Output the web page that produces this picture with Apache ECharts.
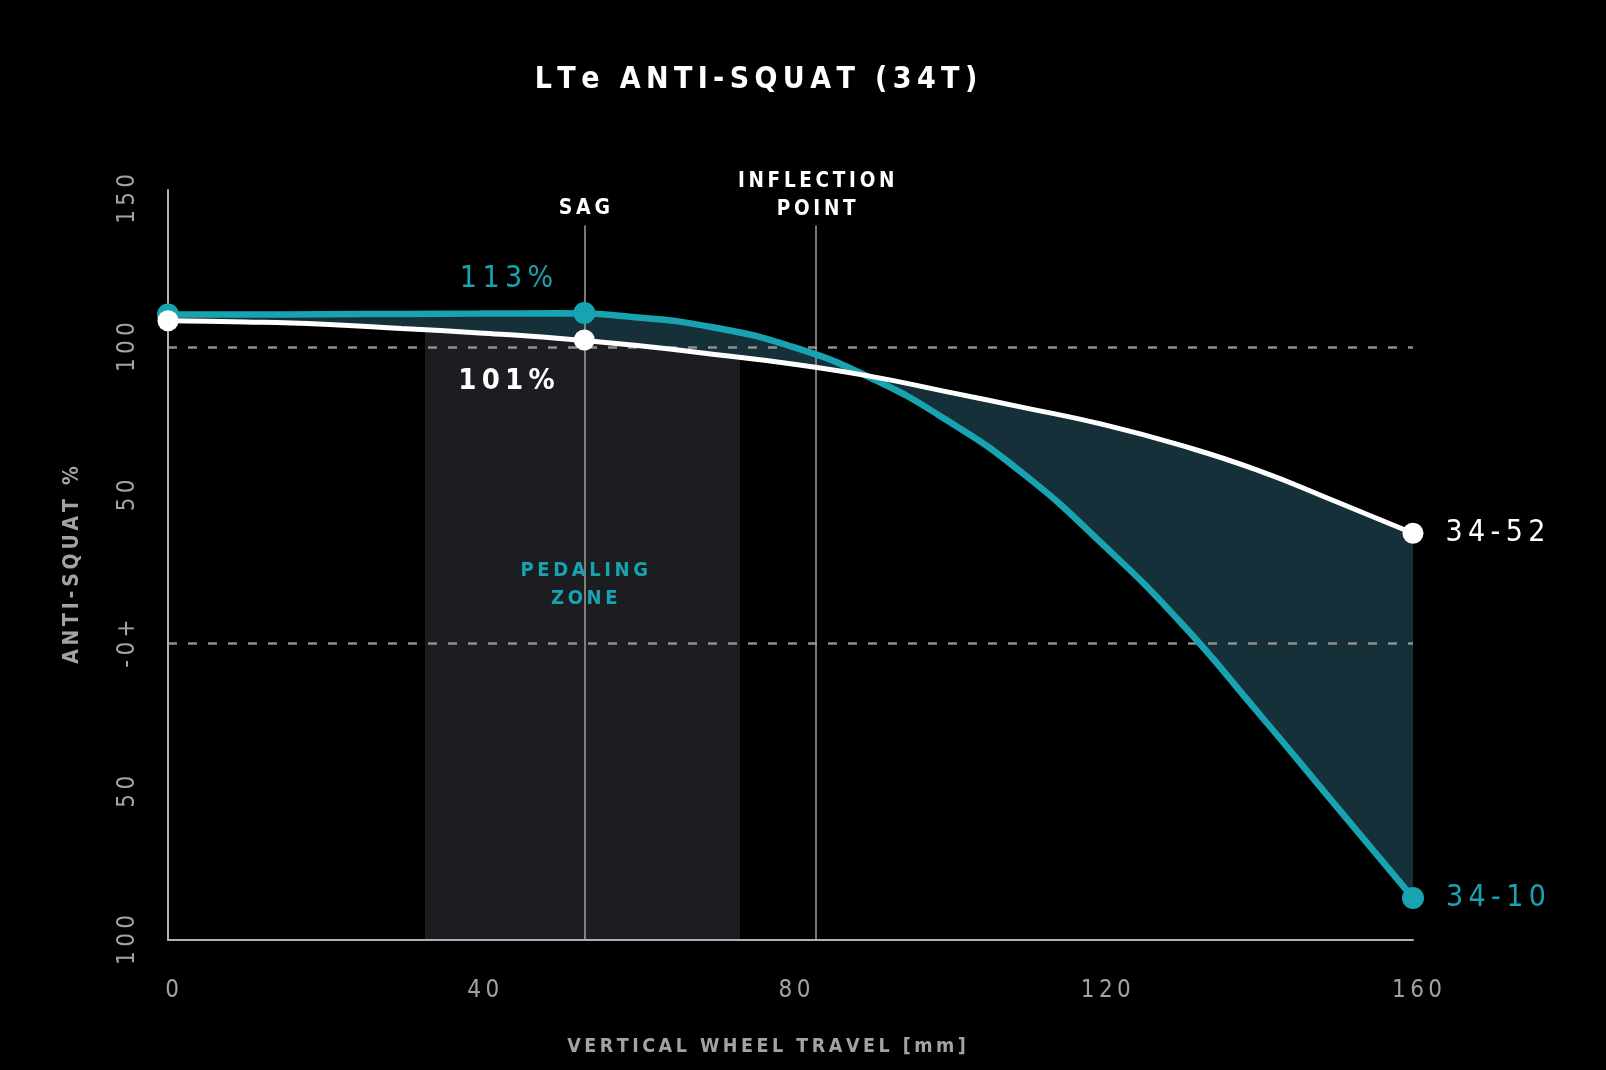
<!DOCTYPE html>
<html>
<head>
<meta charset="utf-8">
<title>LTe Anti-Squat</title>
<style>
  html, body { margin: 0; padding: 0; background: #000; }
  #chart { width: 1606px; height: 1070px; }
</style>
<script src="https://cdn.jsdelivr.net/npm/echarts@6/dist/echarts.min.js"></script>
</head>
<body>
<div id="chart"></div>
<script>
// travel in mm, anti-squat in %
const travel   = [0, 10, 20, 30, 40, 50, 60, 70, 80, 90, 100, 110, 120, 130, 140, 150, 160]
const gear3452 = [108.9, 108.5, 107.7, 106.3, 104.8, 103.0, 100.6, 97.6, 94.4, 90.3, 85.0, 79.6, 74.0, 67.0, 58.5, 48.0, 37.2]
const gear3410 = [111.0, 111.0, 111.1, 111.2, 111.3, 111.4, 110.1, 106.7, 100.3, 90.0, 75.5, 57.1, 33.8, 7.5, -23.0, -54.4, -85.8]
const sagTravel = 53.5
const sagValues = [102.4, 111.5]        // 34-52, 34-10
const sagLabels = ['101%', '113%']
const gearNames = ['34-52', '34-10']
const inflectionTravel = 83.3
const pedalingZone = [33, 73.5]
const refLines = [100, 0]

const TEAL = '#17a3b0'
const WHITE = '#ffffff'
const GREY = '#a3a3a3'
const BAND = '#16303a'
const ZONE = '#1c1d21'
const FONT = '"Liberation Sans Narrow", "DejaVu Sans Condensed", "DejaVu Sans", sans-serif'

// fake letter tracking with thin spaces
const track = s => s.split('').join('\u2009')

const chart = echarts.init(document.getElementById('chart'))

const pts = arr => travel.map((x, i) => [x, arr[i]])
const upper = travel.map((x, i) => [x, Math.max(gear3452[i], gear3410[i])])
const lower = travel.map((x, i) => [x, Math.min(gear3452[i], gear3410[i])])
const xMax = travel[travel.length - 1]
const last = travel.length - 1

const marks = (arr, k) => [
  { value: [travel[0], arr[0]] },
  { value: [sagTravel, sagValues[k]] },
  { value: [travel[last], arr[last]], label: { show: true, formatter: track(gearNames[k]) } }
]

// area under the lower curve: black, grey inside the pedaling zone
const zoneFill = {
  type: 'linear', x: 0, y: 0, x2: 1, y2: 0,
  colorStops: [
    { offset: 0, color: '#000' },
    { offset: pedalingZone[0] / xMax, color: '#000' },
    { offset: pedalingZone[0] / xMax, color: ZONE },
    { offset: pedalingZone[1] / xMax, color: ZONE },
    { offset: pedalingZone[1] / xMax, color: '#000' },
    { offset: 1, color: '#000' }
  ]
}

const option = {
  backgroundColor: '#000',
  animation: false,
  title: {
    text: track('LTe ANTI-SQUAT (34T)'),
    left: 751,
    textAlign: 'center',
    top: 60,
    textStyle: { color: WHITE, fontFamily: FONT, fontWeight: 'bold', fontSize: 30 }
  },
  grid: { left: 168, right: 193, top: 190, bottom: 130 },
  xAxis: {
    type: 'value',
    min: 0,
    max: 160,
    interval: 40,
    z: 6,
    name: track('VERTICAL WHEEL TRAVEL [mm]'),
    nameLocation: 'middle',
    nameGap: 97,
    nameTextStyle: { color: GREY, fontFamily: FONT, fontWeight: 'bold', fontSize: 19.5, padding: [0, 48, 0, 0] },
    axisLine: { onZero: false, lineStyle: { color: '#b0b0b0', width: 2 } },
    axisTick: { show: false },
    splitLine: { show: false },
    axisLabel: { color: GREY, fontFamily: FONT, fontSize: 24, margin: 39, padding: [0, 0, 0, 8], formatter: v => track(String(v)) }
  },
  yAxis: {
    type: 'value',
    min: -100,
    max: 153,
    interval: 50,
    z: 6,
    name: track('ANTI-SQUAT %'),
    nameLocation: 'middle',
    nameRotate: 90,
    nameGap: 85,
    nameTextStyle: { color: GREY, fontFamily: FONT, fontWeight: 'bold', fontSize: 21 },
    axisLine: { show: true, onZero: false, lineStyle: { color: '#b0b0b0', width: 2 } },
    axisTick: { show: false },
    splitLine: { show: false },
    axisLabel: {
      color: GREY, fontFamily: FONT, fontSize: 24, rotate: 90, margin: 28,
      showMaxLabel: false,
      formatter: v => track(v === 0 ? '-0+' : String(Math.abs(v)))
    }
  },
  series: [
    {
      name: 'band',
      type: 'line',
      data: upper,
      smooth: true,
      symbol: 'none',
      silent: true,
      lineStyle: { width: 0 },
      areaStyle: { color: BAND, opacity: 1, origin: 'start' },
      z: 1
    },
    {
      name: 'under',
      type: 'line',
      data: lower,
      smooth: true,
      symbol: 'none',
      silent: true,
      lineStyle: { width: 0 },
      areaStyle: { color: zoneFill, opacity: 1, origin: 'start' },
      z: 2,
      markLine: {
        silent: true,
        symbol: ['none', 'none'],
        label: { show: false },
        z: 5,
        data: [
          ...refLines.map(v => ({ yAxis: v, lineStyle: { color: '#8f8f8f', type: [9, 11], width: 2.5 } })),
          [{ coord: [sagTravel, 141], lineStyle: { color: '#a0a0a0', type: 'solid', width: 1.5 } }, { coord: [sagTravel, -100] }],
          [{ coord: [inflectionTravel, 141], lineStyle: { color: '#a0a0a0', type: 'solid', width: 1.5 } }, { coord: [inflectionTravel, -100] }]
        ]
      },
      markPoint: {
        silent: true,
        symbol: 'circle',
        symbolSize: 1,
        z: 5,
        itemStyle: { color: 'rgba(0,0,0,0)' },
        label: { position: 'inside', fontFamily: FONT },
        data: [
          { coord: [sagTravel, 146.8], label: { formatter: track('SAG'), color: WHITE, fontWeight: 'bold', fontSize: 21 } },
          { coord: [inflectionTravel, 151.2], label: { formatter: track('INFLECTION') + '\n' + track('POINT'), color: WHITE, fontWeight: 'bold', fontSize: 20.5, lineHeight: 28 } },
          { coord: [43.5, 123], label: { formatter: track(sagLabels[1]), color: TEAL, fontSize: 30 } },
          { coord: [43.5, 88.5], label: { formatter: track(sagLabels[0]), color: WHITE, fontSize: 29, fontWeight: 'bold' } },
          { coord: [sagTravel, 19.8], label: { formatter: track('PEDALING') + '\n' + track('ZONE'), color: TEAL, fontWeight: 'bold', fontSize: 20, lineHeight: 28 } }
        ]
      }
    },
    {
      name: '34-10',
      type: 'line',
      data: pts(gear3410),
      smooth: true,
      symbol: 'none',
      lineStyle: { color: TEAL, width: 6.5 },
      z: 10
    },
    {
      name: '34-52',
      type: 'line',
      data: pts(gear3452),
      smooth: true,
      symbol: 'none',
      lineStyle: { color: WHITE, width: 5 },
      z: 11
    },
    {
      name: '34-10 marks',
      type: 'scatter',
      data: marks(gear3410, 1),
      symbolSize: 22,
      itemStyle: { color: TEAL, opacity: 1 },
      label: { show: false, position: 'right', distance: 22, color: TEAL, fontFamily: FONT, fontSize: 30 },
      z: 12
    },
    {
      name: '34-52 marks',
      type: 'scatter',
      data: marks(gear3452, 0),
      symbolSize: 21,
      itemStyle: { color: WHITE, opacity: 1 },
      label: { show: false, position: 'right', distance: 22, color: WHITE, fontFamily: FONT, fontSize: 30 },
      z: 13
    }
  ]
}

chart.setOption(option)
</script>
</body>
</html>
